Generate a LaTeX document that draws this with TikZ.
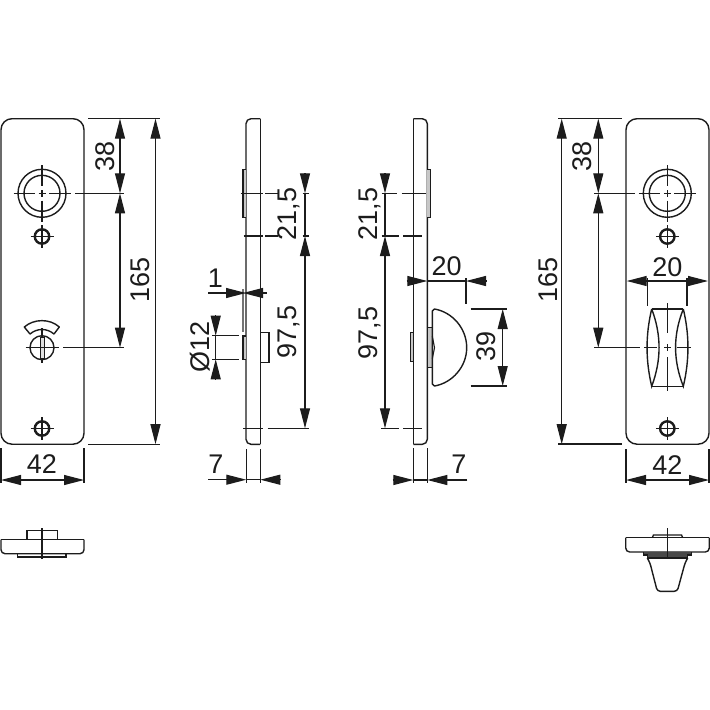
\documentclass[tikz,border=0pt]{standalone}
\usepackage{fontspec}
\setmainfont{Liberation Sans}
\usetikzlibrary{arrows.meta}
\definecolor{ink}{HTML}{1C1C1C}
\tikzset{
  part/.style={draw=ink,line width=1.4pt},
  aux/.style={draw=ink,line width=1.1pt},
  dimboth/.style={aux,<->},
  dimend/.style={aux,->},
  dimtext/.style={text=ink,inner sep=0pt,font=\fontsize{27}{27}\selectfont},
  uptext/.style={dimtext,rotate=90},
  shim/.style={part,fill=black!22},
}
\begin{document}
\begin{tikzpicture}[x=1pt,y=-1pt,>={Triangle[length=20pt,width=10pt]}]
\useasboundingbox (0,0) rectangle (710,710);
% front plates with the rose, the screws and their centre marks
\foreach \x in {1,626}{\draw[part,rounded corners=11pt] (\x,118.7) rectangle ++(83,325.5);}
\foreach \x in {42,667.3}{
  \draw[part] (\x,193.3) circle[radius=24] (\x,193.3) circle[radius=18];
  \draw[aux] (\x-28.5,193.3)--++(21.5,0) (\x-3.5,193.3)--++(7,0) (\x+7,193.3)--++(21.5,0);
  \draw[aux] (\x,165)--++(0,21) (\x,190)--++(0,7) (\x,200.5)--++(0,21.5);
  \foreach \y in {236.5,428.5}{
    \draw[ink,line width=2.4pt] (\x,\y) circle[radius=7.2];
    \draw[aux] (\x-11.5,\y)--++(23,0) (\x,\y-11.5)--++(0,23);
  }
}
% turn indicator, left plate
\draw[part] (42,347.7) circle[radius=12];
\draw[aux] (25.5,347.7)--++(33,0) (42,328)--++(0,35);
\draw[ink,line width=0.8pt,fill=black!12] (40,337) rectangle (44,358);
\draw[aux] (39,347.7)--++(6,0);
\draw[part,line join=round] (24.3,327) .. controls (34,318.5) and (50,318.5) .. (59.3,327)
  -- (54,334) .. controls (47,328) and (37,328) .. (30,334) -- cycle;
% knob, right plate
\draw[part] (651.7,309)--(683.3,309) (651.7,386.3)--(683.3,386.3);
\draw[part] (651.7,309) .. controls (645.5,335) and (645.5,360) .. (651.7,386.3)
  .. controls (661.5,360) and (661.5,335) .. (651.7,309);
\draw[part] (683.3,309) .. controls (689.5,335) and (689.5,360) .. (683.3,386.3)
  .. controls (673,360) and (673,335) .. (683.3,309);
\draw[aux] (667.3,303)--(667.3,333) (667.3,344)--(667.3,351) (667.3,357)--(667.3,390.7);
\draw[aux] (644,347.5)--(657,347.5) (664,347.5)--(671,347.5) (677,347.5)--(690.7,347.5);
% side view, left
\draw[part,rounded corners=5pt] (260.3,118.7)--(246,118.7)--(246,444.3)--(260.3,444.3);
\draw[part] (260.3,118.7)--(260.3,444.3);
\draw[shim] (246,169.3)--(243,169.3)--(243,217.3)--(246,217.3);
\draw[shim] (246,336)--(243,336)--(243,359.3)--(246,359.3);
\draw[part] (260.3,332.3)--(269,332.3)--(269,362.3)--(260.3,362.3);
% side view, right
\draw[part,rounded corners=5pt] (413.3,118.7)--(427.3,118.7)--(427.3,444.3)--(413.3,444.3);
\draw[part] (413.3,118.7)--(413.3,444.3);
\draw[shim] (427.3,169.3)--(430.7,169.3)--(430.7,217.3)--(427.3,217.3);
\draw[shim] (413.3,332.7)--(410.7,332.7)--(410.7,361.7)--(413.3,361.7);
\draw[shim] (427.5,327.7) rectangle (432.3,367.3);
\draw[aux] (432.3,336)--(434.5,347.7)--(432.3,359);
\draw[part,line join=round] (434.5,309) .. controls (452,312) and (466.7,328) .. (466.7,347.7)
  .. controls (466.7,367) and (452,383) .. (434.5,386) -- (432.3,384) -- (432.3,311) -- cycle;
% bottom views
\draw[part,rounded corners=4pt] (1,539.7)--(1,553.7)--(84,553.7)--(84,539.7);
\draw[part] (1,539.7)--(84,539.7);
\draw[part] (27,539.7)--(27,530.7)--(57.3,530.7)--(57.3,539.7);
\draw[part] (17.7,553.7)--(17.7,557)--(66,557)--(66,553.7);
\draw[aux] (42,528)--(42,559);
\draw[part,rounded corners=4pt] (625.7,537.7)--(625.7,552)--(709.3,552)--(709.3,537.7);
\draw[part] (625.7,537.7)--(709.3,537.7);
\draw[part] (652.3,537.7)--(653.5,535)--(681.5,535)--(682.7,537.7);
\draw[part,fill=ink!80] (643.3,552)--(643.3,555)--(647.3,555)--(647.3,558)--(687.7,558)--(687.7,555)--(691.7,555)--(691.7,552);
\draw[part,rounded corners=3pt] (647.3,558)--(650,563)--(657.3,591.3)--(677.3,591.3)--(685,563)--(687.7,558);
\draw[aux] (667.7,528)--(667.7,559);
% extension lines, left
\draw[aux] (88,118.7)--(160,118.7) (88,444.2)--(160,444.2);
\draw[aux] (75,193.3)--(124,193.3) (63,347.7)--(124,347.7);
\draw[aux] (1,448)--(1,483) (84,448)--(84,483);
\draw[aux] (240.7,193.3)--(262.7,193.3) (265,193.3)--(278,193.3) (302.7,193.3)--(309,193.3);
\draw[aux] (243.7,236)--(262.7,236) (265,236)--(278,236) (302.7,236)--(309,236);
\draw[aux] (243.3,428.3)--(263.3,428.3) (267.7,428.3)--(309,428.3);
\draw[aux] (212.3,335.7)--(239.3,335.7) (212.3,359.3)--(239.3,359.3);
\draw[part,draw=black!55] (243,289)--(243,331.7);
\draw[aux] (246.3,449.3)--(246.3,483.3) (260.3,449.3)--(260.3,483.3);
% extension lines, right
\draw[aux] (381.7,193.3)--(396.7,193.3) (401.7,193.3)--(426,193.3);
\draw[aux] (381.7,236)--(399,236) (403.3,236)--(421.7,236);
\draw[aux] (381,428.3)--(399,428.3) (403.3,428.3)--(421.7,428.3);
\draw[aux] (466,278)--(466,304) (470.7,309)--(506.7,309) (470.7,386)--(506.7,386);
\draw[aux] (413.3,448.3)--(413.3,483.3) (427.3,448.3)--(427.3,483.3);
\draw[aux] (558.3,118.7)--(621.7,118.7) (558.3,444)--(621.7,444);
\draw[aux] (594.3,193.3)--(635,193.3) (594.3,347.5)--(640,347.5);
\draw[aux] (647.7,278)--(647.7,306) (687,278)--(687,306);
\draw[aux] (626,449)--(626,483) (709,449)--(709,483);
% dimension lines
\foreach \x in {120,598.3}{
  \draw[dimboth] (\x,118.7)--(\x,193.3);
  \draw[dimboth] (\x,193.3)--(\x,347.7);
}
\foreach \x in {155.5,561.7}{\draw[dimboth] (\x,118.7)--(\x,444.2);}
\foreach \x in {1,626}{\draw[dimboth] (\x,480)--++(83,0);}
\foreach \x in {305,385}{
  \draw[dimend] (\x,173.3)--(\x,193.3);
  \draw[dimboth] (\x,236)--(\x,428.3);
  \draw[aux] (\x,193.3)--(\x,236);
}
\draw[dimend] (208,293)--(246,293);
\draw[dimend] (266.7,293)--(243,293);
\draw[dimend] (215.7,315)--(215.7,335.7);
\draw[dimend] (215.7,379.3)--(215.7,359.3);
\draw[aux] (215.7,335.7)--(215.7,359.3);
\draw[dimend] (208.3,479.7)--(246.3,479.7);
\draw[dimend] (280.3,479.7)--(260.3,479.7);
\draw[aux] (246.3,479.7)--(260.3,479.7);
\draw[dimend] (406.7,281)--(427.3,281);
\draw[dimend] (486.7,281)--(466,281);
\draw[aux] (427.3,281)--(466,281);
\draw[dimboth] (502.7,309)--(502.7,386);
\draw[dimend] (392.7,480)--(413.3,480);
\draw[dimend] (467.3,480)--(427.3,480);
\draw[aux] (413.3,480)--(427.3,480);
\draw[dimboth] (626.7,281)--(708,281);
% labels
\node[uptext] (lblA) at (105,156) {38};
\node[uptext] (lblB) at (140,280) {165};
\node[dimtext] (lblC) at (42,464) {42};
\node[dimtext] (lblD) at (215.5,278) {1};
\node[uptext] (lblE) at (200,346.7) {Ø12};
\node[uptext] (lblF) at (289,214) {21,5};
\node[uptext] (lblG) at (289,332) {97,5};
\node[dimtext] (lblH) at (216,464) {7};
\node[uptext] (lblI) at (370,214) {21,5};
\node[uptext] (lblJ) at (370,333) {97,5};
\node[dimtext] (lblK) at (446.7,266) {20};
\node[uptext] (lblL) at (486.7,346.7) {39};
\node[dimtext] (lblM) at (459,464) {7};
\node[uptext] (lblN) at (582.7,156) {38};
\node[uptext] (lblO) at (548,280) {165};
\node[dimtext] (lblP) at (667.3,266.7) {20};
\node[dimtext] (lblQ) at (667.3,465) {42};
\end{tikzpicture}
\end{document}
